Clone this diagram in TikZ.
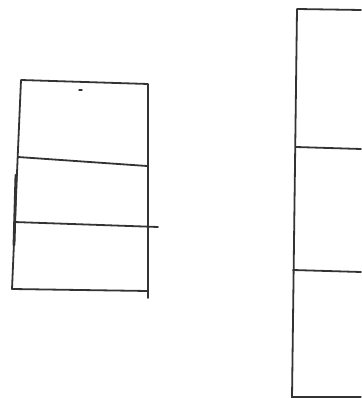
\documentclass[tikz,border=0pt]{standalone}
\begin{document}
\begin{tikzpicture}[
  x=1pt, y=-1pt,
  pen/.style={draw=black!80, line width=1.8pt, line cap=round, line join=round}
]
\useasboundingbox (0,0) rectangle (361,398);
% left stack
\coordinate (ltl) at (21,80);
\coordinate (ltr) at (148,84);
\coordinate (lbl) at (12,289);
\coordinate (lbr) at (148,291);
\draw[pen] (lbl) -- (ltl) -- (ltr) -- (148,298);
\draw[pen] (18,157) -- (147,166);
\draw[pen] (14,222) -- (158,227);
\draw[pen] (lbl) -- (lbr);
\draw[pen, line width=2.8pt] (16,175) -- (14,245);
\draw[pen, line width=1.4pt] (79,90) -- (82,90);
% right stack
\coordinate (rtl) at (297,9);
\coordinate (rbl) at (292,398);
\draw[pen] (rbl) -- (rtl) -- (361,10);
\draw[pen] (296,147) -- (361,149);
\draw[pen] (293,270) -- (361,272);
\draw[pen, line width=1.2pt] (293,397) -- (361,397);
\end{tikzpicture}
\end{document}
